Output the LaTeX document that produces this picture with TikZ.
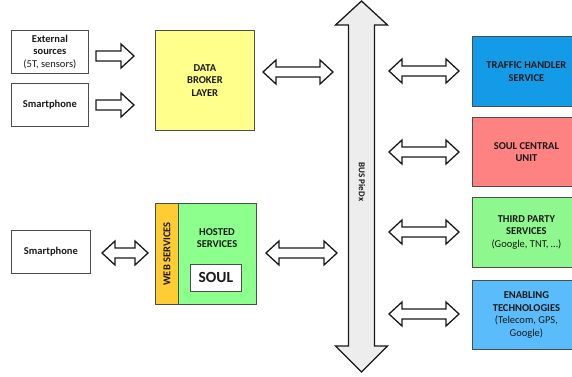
\documentclass[tikz,border=0pt]{standalone}
\usepackage{fontspec}
\setmainfont{Carlito}
\begin{document}
\begin{tikzpicture}[x=1pt,y=-1pt,
  box/.style={draw=black!70,line width=0.8pt,anchor=north west,inner sep=0pt,align=center,
    font=\fontsize{10.5}{12.5}\selectfont\bfseries,text=black!90},
  lbl/.style={align=center,inner sep=0pt,font=\fontsize{10.5}{12.5}\selectfont\bfseries,text=black!90},
  blk/.style={draw=black!90,line width=1.3pt,fill=white,line join=miter},
  busst/.style={draw=black!90,line width=1.3pt,fill=black!7,line join=miter}]
\definecolor{cyel}{HTML}{FFFF8C}
\definecolor{cgrn}{HTML}{8CFF8C}
\definecolor{corg}{HTML}{FFCC33}
\definecolor{cblu}{HTML}{149BE8}
\definecolor{cpnk}{HTML}{FF8282}
\definecolor{clbl}{HTML}{5ABCFA}
\definecolor{ctpg}{HTML}{8EF78E}
\useasboundingbox (0,0) rectangle (572,376);
\clip (0,0) rectangle (572,376);
\newcommand\dblarr[3]{%
 \draw[blk] (#1,#3) -- (#1+13,#3-12) -- (#1+13,#3-5) -- (#2-13,#3-5) -- (#2-13,#3-12) -- (#2,#3)
   -- (#2-13,#3+12) -- (#2-13,#3+5) -- (#1+13,#3+5) -- (#1+13,#3+12) -- cycle;}
\newcommand\sglarr[3]{%
 \draw[blk] (#1,#3-5) -- (#2-13,#3-5) -- (#2-13,#3-12) -- (#2,#3)
   -- (#2-13,#3+12) -- (#2-13,#3+5) -- (#1,#3+5) -- cycle;}
% left boxes
\node[box,minimum width=77pt,minimum height=43pt] (ext) at (11,30)
  {External\\sources\\{\mdseries (5T, sensors)}};
\node[box,minimum width=77pt,minimum height=43pt] (sp1) at (11,83) {Smartphone};
\node[box,minimum width=79pt,minimum height=43pt] (sp2) at (11,230) {Smartphone};
% data broker
\node[box,fill=cyel,minimum width=99pt,minimum height=100pt] (broker) at (155,30)
  {DATA\\BROKER\\LAYER};
% web services + hosted
\node[box,fill=corg,minimum width=23pt,minimum height=101pt] (web) at (155,203) {};
\node[lbl,rotate=90] (webl) at (web.center) {WEB SERVICES};
\node[box,fill=cgrn,minimum width=78pt,minimum height=101pt] (hosted) at (178,203) {};
\node[lbl] (hostl) at (217,238) {HOSTED\\SERVICES};
\node[box,fill=white,minimum width=51pt,minimum height=27pt,font=\fontsize{15.5}{18}\selectfont\bfseries] (soul) at (190,264) {SOUL};
% right boxes
\node[box,fill=cblu,minimum width=108pt,minimum height=70pt] (traffic) at (472,36)
  {TRAFFIC HANDLER\\SERVICE};
\node[box,fill=cpnk,minimum width=108pt,minimum height=69pt] (scu) at (472,117)
  {SOUL CENTRAL\\UNIT};
\node[box,fill=ctpg,minimum width=108pt,minimum height=70pt] (third) at (472,197)
  {THIRD PARTY\\SERVICES\\{\mdseries (Google, TNT, \dots)}};
\node[box,fill=clbl,minimum width=108pt,minimum height=69pt] (enab) at (472,280)
  {ENABLING\\TECHNOLOGIES\\{\mdseries (Telecom, GPS,}\\{\mdseries Google)}};
% bus
\draw[busst] (361.5,1) -- (387.5,25) -- (374.5,25) -- (374.5,346) -- (387.5,346) -- (361.5,372)
  -- (335.5,346) -- (348.5,346) -- (348.5,25) -- (335.5,25) -- cycle;
\node[lbl,rotate=-90,font=\fontsize{9}{11}\selectfont\bfseries] (bus) at (362,182) {BUS PieDx};
% arrows
\sglarr{96}{134}{56}
\sglarr{96}{134}{105}
\dblarr{102}{148}{253}
\dblarr{263}{333}{72}
\dblarr{266}{337}{253}
\dblarr{389}{459}{71}
\dblarr{389}{459}{152}
\dblarr{389}{459}{232}
\dblarr{389}{459}{314}
\end{tikzpicture}
\end{document}
